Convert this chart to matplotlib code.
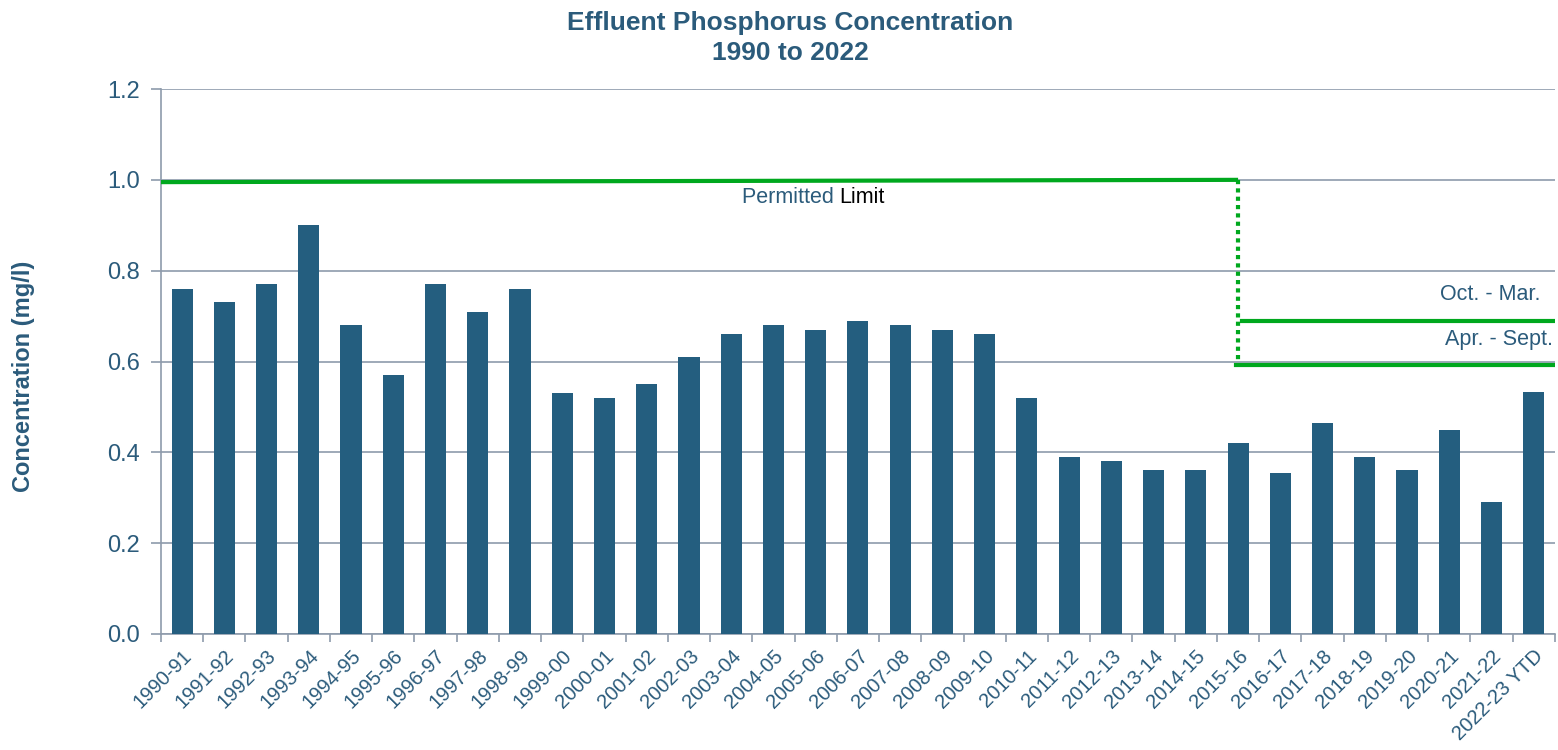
import matplotlib.pyplot as plt
import numpy as np

plt.rcParams['font.family'] = ['Liberation Sans', 'DejaVu Sans']

years = ["1990-91", "1991-92", "1992-93", "1993-94", "1994-95", "1995-96", "1996-97",
         "1997-98", "1998-99", "1999-00", "2000-01", "2001-02", "2002-03", "2003-04",
         "2004-05", "2005-06", "2006-07", "2007-08", "2008-09", "2009-10", "2010-11",
         "2011-12", "2012-13", "2013-14", "2014-15", "2015-16", "2016-17", "2017-18",
         "2018-19", "2019-20", "2020-21", "2021-22", "2022-23 YTD"]
conc = [0.76, 0.73, 0.77, 0.90, 0.68, 0.57, 0.77, 0.71, 0.76, 0.53, 0.52, 0.55, 0.61,
        0.66, 0.68, 0.67, 0.69, 0.68, 0.67, 0.66, 0.52, 0.39, 0.38, 0.36, 0.36, 0.42,
        0.355, 0.465, 0.39, 0.36, 0.45, 0.29, 0.533]

# permit limits
old_limit = [0.995, 1.0]
winter_limit = 0.69
summer_limit = 0.593
change_idx = 25  # 2015-16

blue = "#245e7f"
txt = "#2b5b7b"
grid_c = "#8e9bab"
green = "#00a81e"

fig = plt.figure(figsize=(15.58, 7.5), dpi=100)
ax = fig.add_axes([0.1033, 0.1547, 0.8947, 0.7266])

x = np.arange(len(years))
ax.bar(x, conc, width=0.5, color=blue, zorder=3)

right = len(years) - 0.5
ax.plot([-0.5, change_idx], old_limit, color=green, lw=3, zorder=4, solid_capstyle='butt')
ax.plot([change_idx, change_idx], [old_limit[1], summer_limit], color=green, lw=3,
        ls=(0, (1, 1)), zorder=4)
ax.plot([change_idx + 0.1, right], [winter_limit, winter_limit], color=green, lw=3, zorder=4)
ax.plot([change_idx - 0.05, right], [summer_limit, summer_limit], color=green, lw=3, zorder=4)

ax.text(15.57, 0.962, "Permitted ", color=txt, fontsize=15.5, ha='right', va='center')
ax.text(15.57, 0.962, "Limit", color="black", fontsize=15.5, ha='left', va='center')
ax.text(32.15, 0.747, "Oct. - Mar.", color=txt, fontsize=15.5, ha='right', va='center')
ax.text(32.45, 0.648, "Apr. - Sept.", color=txt, fontsize=15.5, ha='right', va='center')

ax.set_xlim(-0.5, right)
ax.set_ylim(0, 1.2)
ax.set_yticks(np.arange(0, 1.21, 0.2))
ax.set_yticklabels([f"{v:.1f}" for v in np.arange(0, 1.21, 0.2)])
ax.yaxis.grid(True, color=grid_c, lw=1.2, zorder=0)

ax.set_xticks(x)
ax.set_xticklabels(years, rotation=45, ha='right', rotation_mode='anchor')
ax.set_xticks(np.arange(-0.5, len(years), 1), minor=True)
ax.tick_params(axis='x', which='major', length=0, labelsize=14.5, labelcolor=txt, pad=9)
ax.tick_params(axis='x', which='minor', length=6, color=grid_c, width=1.2)
ax.tick_params(axis='y', length=7, color=grid_c, width=1.2, labelsize=17, labelcolor=txt, pad=8)

for s in ['top', 'right']:
    ax.spines[s].set_visible(False)
for s in ['left', 'bottom']:
    ax.spines[s].set_color(grid_c)
    ax.spines[s].set_linewidth(1.2)

ax.set_ylabel("Concentration (mg/l)", fontsize=17, fontweight='bold', color=txt)
ax.yaxis.set_label_coords(-0.09, 0.472)
fig.suptitle("Effluent Phosphorus Concentration\n1990 to 2022", fontsize=19,
             fontweight='bold', color=txt, x=0.507, y=0.985, linespacing=1.3)

fig.savefig("out.png", dpi=100)
